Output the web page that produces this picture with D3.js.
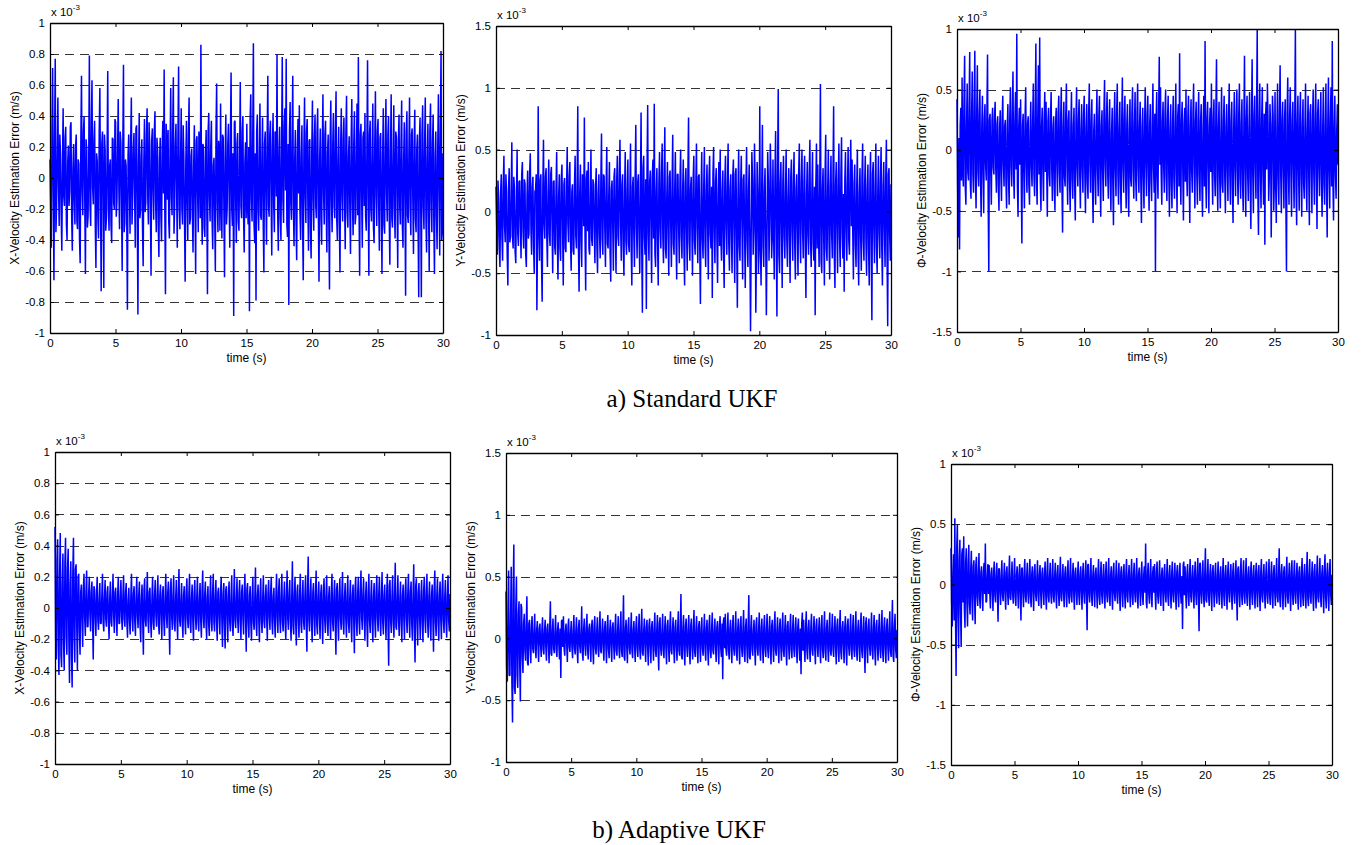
<!DOCTYPE html>
<html><head><meta charset="utf-8">
<script src="https://cdn.jsdelivr.net/npm/d3@7"></script>
<style>
body{margin:0;background:#fff}
svg{display:block}
</style>
</head><body>
<svg id="c" width="1369" height="845"></svg>
<script>
// ---------------- data (velocity errors in units of 1e-5 m/s, i.e. 0.01 x 10^-3) ----------------
// Each series is given as main samples plus the samples lying halfway between them.
const xTicks = [0, 5, 10, 15, 20, 25, 30];
const yTicksX = [-1, -0.8, -0.6, -0.4, -0.2, 0, 0.2, 0.4, 0.6, 0.8, 1];
const yTicksY = [-1, -0.5, 0, 0.5, 1, 1.5];
const yTicksPhi = [-1.5, -1, -0.5, 0, 0.5, 1];
const xLabel = "time (s)";
const yLabelX = "X-Velocity Estimation Error (m/s)";
const yLabelY = "Y-Velocity Estimation Error (m/s)";
const yLabelPhi = "\u03A6-Velocity Estimation Error (m/s)";
const scaleNote = "x 10";
const scaleExp = "-3";
const captions = ["a) Standard UKF", "b) Adaptive UKF"];

const stdX = [
12,-45,71,-66,77,-20,52,-31,15,-47, 45,-18,33,-40,21,-8,36,-47,22,-30,
28,-33,9,-55,66,-24,40,-62,18,-25, 79,-31,63,-17,37,-58,11,-39,58,-73,
30,-71,18,-26,69,-34,12,-42,25,-20, 36,-15,51,-33,23,-60,73,-29,8,-85,
28,-36,52,-13,29,-45,34,-88,42,-21, 25,-57,38,-16,45,-30,21,-63,32,-27,
43,-35,18,-51,26,-41,37,70,-75,23, 31,-39,58,-24,65,-18,35,-45,72,-33,
45,-30,13,-67,37,-40,52,-26,19,-48, 34,-62,27,-35,18,86,-43,20,-38,31,
-75,42,-28,37,-46,13,-60,61,-35,18, 48,-39,26,-64,41,-20,35,-45,68,-31,
-89,37,-42,29,-34,62,-26,40,-48,23, 35,-30,-86,54,-28,87,-42,-79,41,-34,
48,-27,39,-61,30,-43,66,-25,37,-50, 42,-35,28,80,-47,33,-40,78,-29,45,
77,-38,-82,49,-27,66,-44,31,-53,38, 47,-40,34,-66,52,-29,38,-47,25,-52,
50,-34,41,-26,45,-67,32,-43,54,-30, 37,-48,28,-72,50,-35,42,-26,56,-40,
33,-61,45,-28,39,-46,53,-32,27,-49, 51,-37,43,-25,48,78,-63,35,-45,30,
42,-34,76,-63,37,-28,48,-42,56,-31, 38,-47,29,-62,45,-36,51,-28,40,-56,
54,-32,47,-39,26,-58,41,-30,50,-45, 36,-76,43,-29,52,-37,32,-49,44,-35,
28,-77,39,-77,47,-33,52,-48,35,-60, 48,-35,41,-62,30,-46,54,-50,82,-35];
const stdXMid = [
-20,30,-10,25,-35,15,-5,28,-22,8, -12,26,-30,10,-18,33,-24,6,-15,20,
-28,12,-40,22,-8,30,-14,25,-32,10, -18,35,-6,24,-30,16,-26,30,-12,22,
-10,28,-34,14,-20,8,-30,26,-16,38, -25,18,-8,30,-14,22,-35,12,-28,15,
-6,24,-30,18,-10,32,-20,8,-26,14, -32,10,-22,28,-12,36,-18,24,-8,30,
-16,26,-30,12,-24,20,-10,-20,35,-14, -28,18,-12,30,-36,22,-8,26,-18,12,
-20,34,-26,10,-16,28,-30,14,-22,8, -14,24,-10,30,-26,-15,22,-32,12,-18,
30,-12,20,-26,8,-22,28,-16,24,-34, -10,28,-18,14,-30,22,-12,26,-20,16,
36,-14,22,-28,12,-18,30,-24,10,-26, -16,20,38,-12,26,-30,16,30,-20,12,
-24,14,-30,22,-10,26,-18,28,-12,20, -18,30,-12,-22,16,-26,20,-14,34,-8,
-30,22,30,-16,24,-20,12,-28,18,-10, -22,14,-28,20,-12,30,-16,24,-34,18,
-14,26,-18,30,-22,12,-26,20,-10,28, -20,16,-30,24,-14,22,-18,30,-26,12,
-28,20,-12,26,-16,30,-22,14,-20,24, -16,22,-30,18,-24,-20,28,-12,26,-18,
-24,18,-14,28,-20,16,-32,22,-12,30, -18,26,-22,14,-30,20,-10,28,-24,16,
-26,12,-20,30,-14,24,-18,22,-30,10, -12,30,-24,16,-20,28,-14,22,-26,18,
-30,24,-14,28,-18,22,-26,12,-20,30, -16,22,-28,14,-24,20,-10,30,-40,16];

const stdY = [
20,-35,10,-45,30,-40,45,-25,15,-60, 35,-20,56,-30,18,-42,50,-28,25,-38,
40,-30,22,-45,33,-18,47,-35,28,-50, 18,-80,85,-40,30,-73,58,-22,35,-45,
42,-28,36,-50,25,-35,48,-55,30,-40, 38,-60,27,-33,52,-25,40,-48,22,-35,
45,-30,85,-65,38,-45,28,76,-64,33, 40,-35,50,-28,22,-42,35,-50,30,-38,
63,-35,28,-45,52,-30,40,-57,25,-48, 35,-50,45,-28,58,-40,30,-52,48,-35,
42,-33,55,-60,28,-45,70,-38,30,-50, 80,-82,45,-35,-79,86,-40,33,-58,42,
87,-45,35,-60,48,-30,55,-42,68,-38, 40,-52,33,-45,62,-35,48,-55,30,-42,
50,-38,42,-60,35,-48,76,-40,28,-52, 45,-35,55,-42,30,-75,48,-38,52,-45,
38,-55,45,-30,-70,52,-42,35,-58,40, 50,-40,33,-62,45,-35,55,-48,30,-50,
42,-58,35,-78,50,-40,45,-55,30,-62, 52,-45,38,-97,48,-35,55,-82,40,-50,
85,-60,70,-45,35,-84,48,-40,55,-38, 42,-55,65,-85,99,-50,40,-62,45,-38,
50,-45,35,-58,42,-40,48,-55,30,-52, 55,-42,50,-38,45,-70,40,-35,58,-45,
48,-40,-84,55,38,-45,103,-50,35,-60, 62,-40,50,-55,45,-38,85,-62,40,-50,
55,-45,60,-38,-65,48,-40,52,-35,58, 42,-55,38,-45,50,-60,35,-48,55,-40,
45,-52,38,-60,48,-88,40,-42,55,-50, 45,-38,52,-60,40,-45,58,-93,35,-40];
const stdYMid = [
-10,25,-30,15,-20,22,-12,30,-35,18, -25,14,-20,28,-32,10,-18,24,-12,30,
-16,26,-34,12,-22,30,-14,20,-28,16, 30,-20,-12,25,-40,18,-10,28,-20,14,
-18,30,-12,24,-28,16,-22,12,-30,26, -14,22,-30,18,-10,28,-24,16,-32,20,
-20,18,-28,14,-24,30,-12,-20,26,-16, -30,12,-22,26,-16,20,-28,14,-18,24,
-22,30,-14,20,-26,12,-32,18,-10,28, -16,24,-20,30,-12,22,-28,16,-24,18,
-26,14,-30,20,-18,28,-12,24,-22,16, -30,35,-20,26,30,-18,24,-12,28,-22,
-34,16,-24,22,-14,30,-20,26,-30,12, -18,28,-12,20,-26,16,-22,30,-14,24,
-20,14,-28,22,-16,30,-24,18,-12,26, -24,20,-14,28,-30,12,-22,18,-26,16,
-12,26,-18,20,30,-16,24,-22,14,-28, -22,16,-30,24,-12,20,-26,18,-20,28,
-16,30,-24,14,-28,22,-12,26,-18,20, -24,18,-30,-20,26,-14,22,-30,16,-24,
-30,20,-28,16,-22,-18,24,-12,28,-20, -18,26,-14,30,-35,22,-16,24,-20,14,
-24,12,-20,28,-16,22,-26,18,-14,30, -20,24,-16,22,-28,14,-18,30,-24,16,
-26,20,22,-30,-16,24,-40,18,-22,28, -30,16,-24,20,-18,26,-35,22,-14,24,
-22,28,-18,14,26,-16,20,-24,30,-12, -16,22,-26,18,-30,14,-20,28,-24,20,
-24,18,-30,22,-26,30,-14,20,-28,16, -18,24,-28,20,-14,26,-35,30,-20,22];

const stdPhi = [
42,-72,-82,35,60,-30,78,-45,55,-25, 81,-40,65,-35,82,-48,70,-30,50,-55,
45,-52,38,-25,79,-100,30,-45,35,-20, 40,-35,28,-50,33,-42,45,-30,25,-48,
38,-45,52,-30,65,-40,48,96,-55,35, 42,-77,30,-48,52,-35,28,-45,40,-30,
55,-38,88,-45,70,93,-50,35,-42,48, 40,-55,35,-30,48,-42,28,-50,35,-38,
45,-35,52,-68,40,-30,55,-45,33,-50, 48,-40,35,-58,52,-30,42,-48,38,-35,
45,-52,38,-40,55,-35,42,-60,30,-45, 50,-38,45,-55,33,-42,58,-30,48,-40,
42,-50,35,-62,48,-38,55,-45,40,-52, 60,-35,45,-48,38,-55,42,-30,52,-40,
48,-42,55,-35,40,-60,35,-48,52,-38, 45,-50,38,-42,55,-35,-100,48,-40,77,
52,-45,40,-35,50,-42,45,-55,38,-48, 45,-40,55,-52,38,80,-45,40,-58,35,
50,-38,45,-60,42,-35,55,-48,40,-45, 48,-42,38,-55,45,90,-48,40,-52,35,
55,-45,42,-38,75,-50,40,-48,52,-35, 45,-52,38,-42,55,-45,40,-60,48,-38,
50,-45,55,-40,42,-50,78,-55,45,-42, 48,-65,75,-52,45,-40,100,-70,55,-48,
52,-45,-78,40,55,-42,38,-72,45,-50, 48,-60,55,-45,70,-52,40,-48,42,-100,
60,-45,52,-55,40,-48,100,-62,45,-50, 48,-55,42,-40,55,-50,45,-62,38,-52,
50,-45,55,-65,42,-38,48,-55,52,-45, 55,-72,60,-48,52,90,-58,45,-40,38];
const stdPhiMid = [
-30,10,20,-25,-15,40,-30,20,-18,35, -28,30,-20,35,-22,30,-18,28,-24,20,
-20,26,-12,30,-40,25,-16,24,-14,28, -16,22,-28,18,-20,26,-12,20,-26,18,
-22,28,-14,30,-20,24,-16,-30,18,-12, -24,20,-18,26,-12,22,-28,16,-14,24,
-20,30,-24,28,-20,-26,20,-16,24,-18, -14,24,-20,26,-16,18,-28,22,-12,30,
-18,26,-30,20,-22,28,-16,24,-26,18, -24,20,-28,22,-14,26,-20,18,-16,28,
-20,18,-26,30,-12,24,-30,16,-22,20, -16,28,-24,20,-18,30,-12,26,-20,22,
-22,14,-28,24,-16,30,-20,18,-26,24, -14,26,-20,22,-28,16,-24,30,-18,20,
-24,30,-16,20,-26,18,-22,24,-14,28, -20,22,-26,18,-14,30,24,-20,30,-12,
-18,24,-14,30,-22,26,-20,16,-28,22, -24,20,-18,28,-30,-20,24,-16,22,-26,
-16,28,-22,20,-18,30,-14,24,-20,26, -20,24,-28,18,-30,-22,26,-14,20,-18,
-14,26,-20,30,-24,18,-22,16,-28,24, -22,20,-16,28,-20,24,-30,18,-14,26,
-18,30,-24,22,-28,20,-16,26,-20,18, -26,22,-20,28,-14,30,-35,24,-18,26,
-20,30,26,-16,24,-22,20,-14,28,-24, -28,18,-22,30,-20,24,-16,26,-40,30,
-16,28,-20,24,-14,26,-30,22,-18,28, -22,20,-28,18,-24,16,-20,30,-14,24,
-20,26,-18,30,-16,22,-24,18,-28,20, -30,24,-18,26,-30,-24,18,-20,16,-12];

const adaX = [
52,-33,44,-43,48,-38,35,-40,45,-30, 38,-48,30,-51,45,-35,28,-40,22,-30,
15,-25,22,-18,24,-12,20,-15,17,-33, 12,-18,20,-14,16,-10,22,-15,18,-12,
14,-20,17,-12,22,-16,13,-18,20,-10, 18,-14,21,-12,16,-19,13,-17,22,-15,
14,-18,20,-13,17,-22,15,-30,19,-12, 23,-16,13,-19,20,-14,18,-12,21,-17,
15,-20,14,-18,22,-13,17,-30,19,-14, 21,-15,18,-20,25,-12,16,-19,14,-17,
19,-13,22,-16,15,-21,18,-14,20,-15, 16,-19,24,-13,17,-20,14,-18,21,-15,
22,-15,18,-21,13,-17,20,-25,16,-26, 14,-22,17,-15,21,-18,25,-13,19,-16,
18,-20,15,-17,22,-28,16,-19,14,-21, 20,-14,26,-18,15,-22,19,-16,21,-13,
15,-21,18,-14,20,-17,13,-19,22,-16, 19,-16,22,-15,17,-20,24,-14,18,-21,
30,-17,20,-24,15,-19,22,-16,18,-14, 21,-28,33,-15,19,-22,16,-18,24,-17,
17,-20,15,-23,19,-16,21,-18,14,-20, 22,-15,18,-30,16,-21,19,-14,23,-17,
16,-19,21,-16,18,-22,15,-29,20,-18, 20,-17,24,-14,19,-21,17,-25,22,-16,
18,-22,16,-19,21,-15,20,-18,23,-17, 15,-20,22,-37,18,-16,21,-19,29,-14,
21,-18,17,-22,15,-20,19,-16,22,-19, 17,-21,28,-35,19,-24,16,-20,18,-22,
20,-16,22,-19,17,-21,15,-28,24,-18, 19,-21,17,-20,22,-16,18,-19,21,-15];
const adaXMid = [
-20,30,-25,20,-30,15,-22,28,-18,25, -20,15,-30,22,-18,25,-12,20,-15,10,
-8,12,-6,10,-12,8,-5,10,-8,14, -6,9,-8,5,-10,7,-9,6,-7,10,
-8,6,-9,7,-5,10,-6,8,-10,7, -6,8,-7,10,-9,5,-8,7,-6,9,
-9,7,-5,8,-10,6,-7,12,-8,6, -7,10,-8,6,-9,8,-5,7,-10,8,
-6,9,-8,7,-5,10,-9,12,-6,8, -10,6,-7,9,-8,5,-9,8,-7,10,
-7,8,-10,6,-8,9,-5,7,-9,6, -8,10,-6,8,-9,7,-10,6,-8,9,
-9,7,-8,10,-6,8,-7,9,-10,12, -6,8,-9,7,-10,6,-8,5,-7,9,
-8,10,-7,9,-6,12,-9,8,-10,7, -9,6,-10,8,-7,9,-8,6,-9,7,
-7,9,-6,10,-8,7,-9,8,-6,10, -8,7,-9,6,-10,8,-7,9,-8,6,
-12,8,-9,10,-7,8,-10,6,-9,8, -10,12,-8,7,-9,10,-6,8,-11,7,
-6,9,-8,10,-7,8,-9,7,-8,9, -9,7,-10,12,-8,9,-7,8,-10,6,
-7,8,-9,6,-10,8,-7,12,-8,9, -8,10,-6,9,-7,8,-10,9,-8,7,
-9,7,-8,10,-6,9,-8,7,-9,8, -7,9,-10,14,-8,7,-9,8,-12,6,
-8,6,-9,8,-7,10,-6,9,-8,10, -10,8,-12,14,-9,10,-7,8,-9,10,
-7,9,-8,7,-10,8,-6,12,-9,8, -9,8,-7,10,-8,6,-9,7,-8,9];

const adaY = [
38,-35,55,-30,58,-68,76,-45,50,-40, 30,-51,25,-28,20,-18,34,-22,15,-20,
18,-12,20,-16,14,-19,12,-15,17,-13, 15,-18,12,-20,30,-14,16,-12,19,-15,
13,-17,-32,15,18,-14,12,-19,16,-11, 14,-16,19,-13,17,-20,15,-12,26,-18,
16,-14,20,-17,12,-19,15,-21,18,-13, 17,-15,22,-12,16,-18,14,-20,19,-16,
15,-19,13,-17,20,-14,18,-16,22,-15, 35,-18,15,-20,17,-13,21,-16,14,-19,
18,-15,20,-17,24,-14,16,-19,15,-22, 16,-20,14,-18,21,-15,19,-26,17,-14,
20,-16,18,-21,15,-19,22,-13,17,-20, 15,-18,22,-14,36,-17,19,-22,16,-15,
19,-21,16,-17,23,-15,18,-20,14,-19, 17,-14,20,-18,15,-22,19,-16,21,-13,
16,-19,14,-21,18,-15,-33,17,20,-14, 21,-17,15,-20,19,-14,22,-18,16,-21,
18,-15,23,-19,16,-20,35,-17,19,-14, 15,-22,17,-14,21,-18,16,-20,19,-15,
20,-16,18,-21,15,-19,22,-14,17,-20, 16,-18,21,-15,19,-22,14,-17,20,-16,
19,-15,17,-20,16,-18,-29,21,15,-19, 22,-17,15,-19,20,-14,18,-21,16,-15,
17,-20,19,-16,22,-18,15,-19,21,-14, 20,-15,18,-21,16,-19,23,-17,14,-20,
18,-22,16,-14,20,-17,19,-15,22,-18, 15,-19,21,-16,18,-28,17,-20,16,-14,
21,-17,19,-22,15,-18,20,-16,23,-19, 17,-20,16,-18,22,-15,31,-19,20,-16];
const adaYMid = [
-25,20,-30,15,-35,40,-40,25,-30,20, -20,28,-15,12,-10,10,-20,12,-8,10,
-8,6,-9,7,-5,8,-6,7,-9,6, -7,8,-5,9,-12,6,-8,5,-9,7,
-6,8,14,-7,-8,6,-5,9,-7,5, -7,6,-8,6,-9,8,-6,5,-12,8,
-6,7,-9,8,-5,9,-7,10,-8,6, -8,7,-10,5,-7,8,-6,9,-9,7,
-7,9,-6,8,-10,6,-8,7,-10,6, -15,8,-7,9,-8,6,-10,7,-6,9,
-8,7,-9,8,-11,6,-7,9,-7,10, -7,9,-6,8,-10,7,-9,12,-8,6,
-9,7,-8,10,-7,9,-10,6,-8,9, -7,8,-10,6,-15,8,-9,10,-7,7,
-9,10,-7,8,-11,7,-8,9,-6,9, -8,6,-9,8,-7,10,-9,7,-10,6,
-7,9,-6,10,-8,12,14,-8,-9,6, -10,8,-7,9,-9,6,-10,8,-7,10,
-8,7,-11,9,-7,9,-15,8,-9,6, -7,10,-8,6,-10,8,-7,9,-9,7,
-9,7,-8,10,-7,9,-10,6,-8,9, -7,8,-10,7,-9,10,-6,8,-9,7,
-9,7,-8,9,-7,8,12,-10,-7,9, -10,8,-7,9,-9,6,-8,10,-7,7,
-8,9,-9,7,-10,8,-7,9,-10,6, -9,7,-8,10,-7,9,-11,8,-6,9,
-8,10,-7,6,-9,8,-9,7,-10,8, -7,9,-10,7,-8,12,-8,9,-7,6,
-10,8,-9,10,-7,8,-9,7,-11,9, -8,9,-7,8,-10,7,-14,9,-9,7];

const adaPhi = [
30,-35,25,55,-76,50,-53,37,-52,30, 40,-36,30,-35,33,-25,28,-30,20,-33,
23,-18,26,-20,15,-22,18,34,-14,17, 16,-20,14,-22,19,-15,18,-31,13,-17,
20,-14,18,-21,15,-17,24,-13,19,-16, 22,-18,15,-20,17,-30,14,-19,21,-15,
18,-16,21,-19,15,-22,17,-14,20,-18, 16,-20,14,-17,19,-21,22,-15,18,-16,
21,-15,18,-20,16,-18,23,-14,17,-19, 15,-19,20,-16,22,-15,18,-21,14,-17,
19,-17,15,-21,18,-16,20,-38,17,-15, 22,-18,16,-19,14,-20,21,-17,19,-16,
17,-20,19,-15,22,-18,15,-21,18,-14, 20,-16,18,-22,15,-19,17,-20,21,-15,
16,-19,21,-17,18,-15,22,-20,14,-18, 19,-17,15,34,-20,18,-16,21,-19,15,
17,-21,19,-16,20,-18,14,-22,17,-15, 21,-18,16,-20,19,-15,18,-21,16,-19,
18,-16,-37,19,15,-20,17,-18,21,-15, 16,-20,19,-17,22,-39,18,-16,20,-19,
30,-15,21,-18,17,-22,16,-19,18,-16, 19,-17,15,-20,22,-18,16,-21,19,-15,
17,-21,18,-16,20,-30,15,-19,22,-17, 20,-16,22,-18,15,-21,19,-17,16,-20,
18,-19,16,-22,21,-15,17,-20,19,-16, 21,-17,19,-20,16,-18,22,-15,30,-19,
17,-21,15,-19,23,-16,18,-22,20,-17, 20,-16,18,-21,15,-19,22,-18,17,-20,
27,-18,21,-16,19,-22,17,-20,24,-15, 22,-19,16,-24,25,-20,18,-22,21,-17];
const adaPhiMid = [
-15,10,-30,-20,30,-25,20,-20,25,-15, -20,18,-15,18,-16,12,-14,15,-10,16,
-10,9,-12,10,-7,10,-8,-15,6,-8, -7,9,-6,10,-9,7,-8,13,-6,8,
-9,6,-8,10,-7,8,-11,6,-9,7, -10,8,-7,9,-8,13,-6,9,-10,7,
-8,7,-10,9,-7,10,-8,6,-9,8, -7,9,-6,8,-9,10,-10,7,-8,7,
-10,7,-8,9,-7,8,-11,6,-8,9, -7,9,-9,7,-10,7,-8,10,-6,8,
-9,8,-7,10,-8,7,-9,16,-8,7, -10,8,-7,9,-6,9,-10,8,-9,7,
-8,9,-9,7,-10,8,-7,10,-8,6, -9,7,-8,10,-7,9,-8,9,-10,7,
-7,9,-10,8,-8,7,-10,9,-6,8, -9,8,-7,-15,9,-8,7,-10,9,-7,
-8,10,-9,7,-9,8,-6,10,-8,7, -10,8,-7,9,-9,7,-8,10,-7,9,
-8,7,16,-9,-7,9,-8,8,-10,7, -7,9,-9,8,-10,17,-8,7,-9,9,
-13,7,-10,8,-8,10,-7,9,-8,7, -9,8,-7,9,-10,8,-7,10,-9,7,
-8,10,-8,7,-9,13,-7,9,-10,8, -9,7,-10,8,-7,10,-9,8,-7,9,
-8,9,-7,10,-10,7,-8,9,-9,7, -10,8,-9,9,-7,8,-10,7,-13,9,
-8,10,-7,9,-10,7,-8,10,-9,8, -9,7,-8,10,-7,9,-10,8,-8,9,
-12,8,-10,7,-9,10,-8,9,-11,7, -10,9,-7,11,-11,9,-8,10,-9,8];

const UNIT_TO_1E3 = 0.01; // 1e-5 m/s expressed in 10^-3 m/s
// interleave main samples with the halfway samples -> time-ordered series
const series = (main, mid) => d3.merge(main.map((v, i) => [v, mid[i]]));

// ---------------- layout ----------------
const panels = [
  {data: series(stdX, stdXMid),     yt: yTicksX,   label: yLabelX,   l: 50,  r: 443,  t: 23,  b: 333},
  {data: series(stdY, stdYMid),     yt: yTicksY,   label: yLabelY,   l: 496, r: 891,  t: 26,  b: 335},
  {data: series(stdPhi, stdPhiMid), yt: yTicksPhi, label: yLabelPhi, l: 957, r: 1338, t: 29,  b: 332},
  {data: series(adaX, adaXMid),     yt: yTicksX,   label: yLabelX,   l: 55,  r: 450,  t: 452, b: 764},
  {data: series(adaY, adaYMid),     yt: yTicksY,   label: yLabelY,   l: 506, r: 897,  t: 453, b: 762},
  {data: series(adaPhi, adaPhiMid), yt: yTicksPhi, label: yLabelPhi, l: 951, r: 1332, t: 464, b: 765}
];
const FONT = "Arial, 'Liberation Sans', Helvetica, sans-serif";
const svg = d3.select("#c");
svg.append("rect").attr("width",1369).attr("height",845).attr("fill","#fff");

function styleAxis(g){
  g.attr("font-family", FONT).attr("font-size", 11.5);
  g.select(".domain").attr("stroke","#000").attr("stroke-width",1.3);
  g.selectAll(".tick line").attr("stroke","#000").attr("stroke-width",1);
  g.selectAll(".tick text").attr("fill","#000");
}

panels.forEach(p => {
  const g = svg.append("g");
  const x = d3.scaleLinear().domain([0,30]).range([p.l,p.r]);
  const y = d3.scaleLinear().domain([p.yt[0], p.yt[p.yt.length-1]]).range([p.b,p.t]);
  const tStep = 30 / (p.data.length - 1);

  // dashed y grid
  g.append("g").selectAll("line").data(p.yt.slice(1,-1)).join("line")
    .attr("x1",p.l).attr("x2",p.r)
    .attr("y1",d=>Math.round(y(d))+0.5).attr("y2",d=>Math.round(y(d))+0.5)
    .attr("stroke","#333").attr("stroke-width",1).attr("stroke-dasharray","9,6");

  // data line
  const line = d3.line().x((d,i)=>x(i*tStep)).y(d=>y(d*UNIT_TO_1E3));
  g.append("path").datum(p.data).attr("d",line)
    .attr("fill","none").attr("stroke","#0000ff").attr("stroke-width",1.5).attr("stroke-linejoin","bevel");

  // axes (inward ticks on all four sides)
  const fmt = d => String(d);
  const ax = [
    g.append("g").attr("transform",`translate(0,${p.b})`)
      .call(d3.axisBottom(x).tickValues(xTicks).tickSizeInner(-4).tickSizeOuter(0).tickPadding(5.5).tickFormat(fmt)),
    g.append("g").attr("transform",`translate(0,${p.t})`)
      .call(d3.axisTop(x).tickValues(xTicks).tickSizeInner(-4).tickSizeOuter(0).tickFormat("")),
    g.append("g").attr("transform",`translate(${p.l},0)`)
      .call(d3.axisLeft(y).tickValues(p.yt).tickSizeInner(-4).tickSizeOuter(0).tickPadding(5).tickFormat(fmt)),
    g.append("g").attr("transform",`translate(${p.r},0)`)
      .call(d3.axisRight(y).tickValues(p.yt).tickSizeInner(-4).tickSizeOuter(0).tickFormat(""))
  ];
  ax.forEach(styleAxis);

  // x label
  g.append("text").attr("x",(p.l+p.r)/2).attr("y",p.b+29).attr("text-anchor","middle")
    .attr("font-family",FONT).attr("font-size",12).text(xLabel);
  // y label
  g.append("text").attr("transform",`translate(${p.l-31},${(p.t+p.b)/2}) rotate(-90)`)
    .attr("text-anchor","middle").attr("font-family",FONT).attr("font-size",12).text(p.label);
  // x 10^-3
  const s = g.append("text").attr("x",p.l+1).attr("y",p.t-7).attr("font-family",FONT).attr("font-size",11.5);
  s.append("tspan").text(scaleNote);
  s.append("tspan").attr("dy",-6).attr("font-size",8).text(scaleExp);
});

// captions
svg.append("text").attr("x",692).attr("y",407).attr("text-anchor","middle")
  .attr("font-family","'Liberation Serif','Times New Roman',serif").attr("font-size",25).text(captions[0]);
svg.append("text").attr("x",679).attr("y",838).attr("text-anchor","middle")
  .attr("font-family","'Liberation Serif','Times New Roman',serif").attr("font-size",25).text(captions[1]);
</script>
</body></html>
